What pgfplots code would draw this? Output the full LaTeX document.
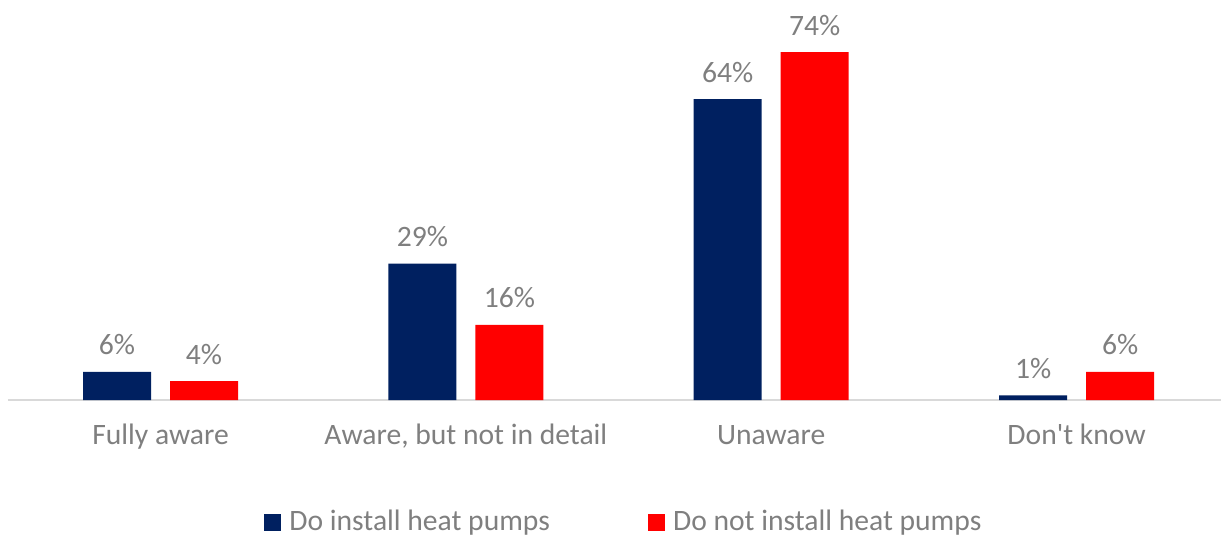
\documentclass[border=0pt]{standalone}
\usepackage{pgfplots}
\pgfplotsset{compat=1.18}
\usepackage{fontspec}
\setmainfont{Carlito}
\definecolor{navy}{HTML}{002060}
\definecolor{redbar}{HTML}{FF0000}
\definecolor{txt}{HTML}{7F7F7F}
\definecolor{axisgray}{HTML}{D9D9D9}
\begin{document}
\begin{tikzpicture}
\path[use as bounding box] (-4pt,-68pt) rectangle (606.5pt,200pt);
\begin{axis}[
  at={(0,0)}, anchor=south west,
  scale only axis, width=606.5pt, height=200pt,
  xmin=-0.4995, xmax=3.473, ymin=0, ymax=85.1,
  /pgf/number format/assume math mode=true,
  axis y line=none,
  axis x line*=bottom,
  x axis line style={axisgray, line width=1pt, -},
  xtick={0,1,2,3},
  xticklabels={Fully aware, {Aware, but not in detail}, Unaware, Don\textquotesingle t know},
  major tick length=0pt,
  xticklabel style={text=txt, font=\fontsize{14.8}{17}\selectfont, anchor=base, yshift=-22pt},
  ybar, bar width=34pt,
  nodes near coords={\pgfmathprintnumber{\pgfplotspointmeta}\%},
  every node near coord/.append style={font=\fontsize{14.8}{17}\selectfont, text=txt, anchor=base, yshift=8.5pt},
  legend style={at={(0.5086,-0.305)}, anchor=center, draw=none, fill=none,
    legend columns=2, font=\fontsize{14.8}{17}\selectfont, text=txt,
    /tikz/every even column/.append style={column sep=47pt}},
  legend image code/.code={\fill[#1] (0pt,-4.25pt) rectangle (8.5pt,4.25pt); \path (10.5pt,0pt);},
  clip=false,
]
\addplot[fill=navy, draw=none, bar shift=-21.75pt] coordinates {(0,6) (1,29) (2,64) (3,1)};
\addplot[fill=redbar, draw=none, bar shift=21.75pt] coordinates {(0,4) (1,16) (2,74) (3,6)};
\legend{Do install heat pumps, Do not install heat pumps}
\end{axis}
\end{tikzpicture}
\end{document}
